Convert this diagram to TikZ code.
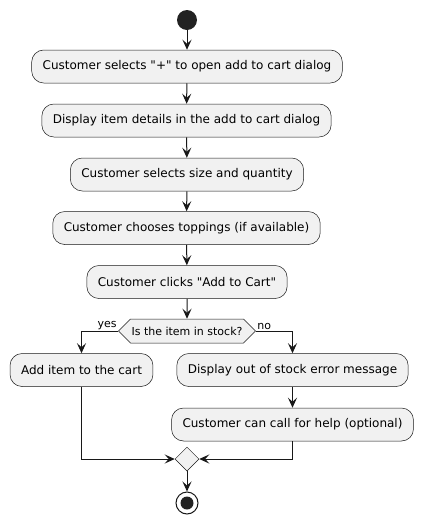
\documentclass[tikz,border=0pt]{standalone}
\usepackage{fontspec}
\setmainfont{DejaVu Sans}
\usepackage{tikz}
\usetikzlibrary{arrows.meta,positioning,shapes.geometric,shapes.symbols}
\definecolor{umlfill}{HTML}{F1F1F1}
\definecolor{umlline}{HTML}{181818}
\definecolor{umldot}{HTML}{222222}

\begin{document}
\begin{tikzpicture}[x=1pt,y=-1pt,
        every node/.style={font=\fontsize{12}{14}\selectfont},
        act/.style={draw=umlline,line width=0.5pt,fill=umlfill,rounded corners=12pt,
            minimum height=33pt,inner xsep=11pt},
        ask/.style={draw=umlline,line width=0.5pt,fill=umlfill,signal,signal to=west and east,
            signal pointer angle=90,minimum width=134pt,minimum height=24pt,inner sep=1pt,
            font=\fontsize{11}{13}\selectfont},
        merger/.style={draw=umlline,line width=0.5pt,fill=umlfill,diamond,minimum size=24pt,inner sep=0pt},
        tag/.style={inner sep=1pt,font=\fontsize{11}{13}\selectfont},
        flow/.style={draw=umlline,line width=1pt,-{Stealth[length=10pt,width=9pt,inset=4pt]}}]
    \useasboundingbox (0,0) rectangle (422,523);
    \node[circle,fill=umldot,minimum size=20pt,inner sep=0pt] (start) at (187,20) {};
    \node[act] (sel) at (187,66.5) {Customer selects \textquotedbl+\textquotedbl{} to open add to cart dialog};
    \node[act] (show) at (186.5,120.5) {Display item details in the add to cart dialog};
    \node[act] (size) at (187,174.5) {Customer selects size and quantity};
    \node[act] (top) at (186.5,228) {Customer chooses toppings (if available)};
    \node[act] (click) at (187,282) {Customer clicks \textquotedbl Add to Cart\textquotedbl};
    \node[ask] (check) at (187,331) {Is the item in stock?};
    \node[act] (add) at (81.5,370) {Add item to the cart};
    \node[act] (oos) at (292.5,370) {Display out of stock error message};
    \node[act] (help) at (292.5,424.5) {Customer can call for help (optional)};
    \node[merger] (merge) at (187,459) {};
    \node[circle,draw=umlline,line width=1pt,fill=white,minimum size=22pt,inner sep=0pt] (stop) at (187,503) {};
    \fill[umldot] (stop.center) circle (6.5pt);

    \draw[flow] (start) -- (sel);
    \draw[flow] (sel) -- (show);
    \draw[flow] (show) -- (size);
    \draw[flow] (size) -- (top);
    \draw[flow] (top) -- (click);
    \draw[flow] (click) -- (check);
    \draw[flow] (check.west) -| node[tag,pos=0,anchor=south east] {yes} (add.north);
    \draw[flow] (check.east) -| node[tag,pos=0,anchor=south west] {no} (oos.north);
    \draw[flow] (oos) -- (help);
    \draw[flow] (add.south) |- (merge.west);
    \draw[flow] (help.south) |- (merge.east);
    \draw[flow] (merge) -- (stop);
\end{tikzpicture}
\end{document}
